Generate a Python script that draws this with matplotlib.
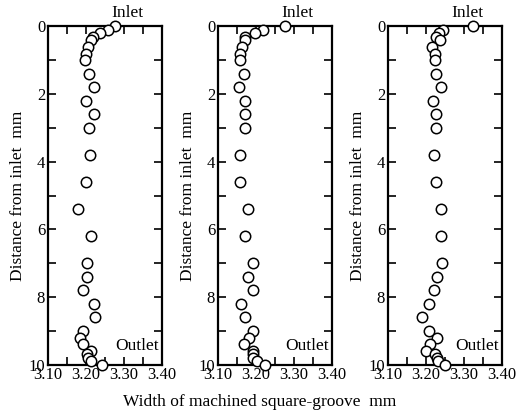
import matplotlib.pyplot as plt
from matplotlib.ticker import MultipleLocator

plt.rcParams['font.family'] = ['Liberation Serif', 'DejaVu Serif']

# distance from inlet (mm), same stations for all three grooves
dist = [0, 0.1, 0.2, 0.3, 0.4, 0.6, 0.8, 1.0, 1.4, 1.8, 2.2, 2.6, 3.0, 3.8, 4.6,
        5.4, 6.2, 7.0, 7.4, 7.8, 8.2, 8.6, 9.0, 9.2, 9.4, 9.6, 9.7, 9.8, 9.9, 10.0]

# groove width (mm)
width_a = [3.277, 3.257, 3.238, 3.219, 3.213, 3.206, 3.199, 3.198, 3.209, 3.221,
           3.200, 3.221, 3.209, 3.211, 3.200, 3.180, 3.212, 3.202, 3.202, 3.193,
           3.222, 3.224, 3.192, 3.183, 3.192, 3.214, 3.203, 3.205, 3.212, 3.242]
width_b = [3.276, 3.219, 3.197, 3.172, 3.170, 3.163, 3.157, 3.157, 3.168, 3.156,
           3.171, 3.171, 3.171, 3.158, 3.158, 3.180, 3.171, 3.193, 3.180, 3.192,
           3.160, 3.170, 3.192, 3.182, 3.169, 3.192, 3.192, 3.193, 3.202, 3.223]
width_c = [3.323, 3.245, 3.235, 3.226, 3.236, 3.215, 3.224, 3.224, 3.226, 3.239,
           3.219, 3.227, 3.227, 3.221, 3.227, 3.239, 3.239, 3.241, 3.230, 3.221,
           3.209, 3.189, 3.209, 3.230, 3.210, 3.200, 3.223, 3.230, 3.232, 3.251]

fig = plt.figure(figsize=(5.24, 4.2), dpi=100)
lefts = [48 / 524, 218 / 524, 388 / 524]

for left, w in zip(lefts, [width_a, width_b, width_c]):
    ax = fig.add_axes([left, 0.132, 114 / 524, 0.805])
    ax.plot(w, dist, 'o', mfc='white', mec='black', mew=1.1, ms=7.5, clip_on=False, zorder=3)
    ax.set_xlim(3.10, 3.40)
    ax.set_ylim(10, 0)
    ax.xaxis.set_major_locator(MultipleLocator(0.1))
    ax.xaxis.set_minor_locator(MultipleLocator(0.05))
    ax.yaxis.set_major_locator(MultipleLocator(2))
    ax.yaxis.set_minor_locator(MultipleLocator(1))
    ax.set_xticks([3.10, 3.20, 3.30, 3.40])
    ax.set_xticklabels(['3.10', '3.20', '3.30', '3.40'])
    ax.tick_params(which='both', direction='in', top=True, right=True,
                   length=6, width=1.2, labelsize=12, pad=2)
    for s in ax.spines.values():
        s.set_linewidth(1.6)
    ax.set_ylabel('Distance from inlet  mm', fontsize=12.5, labelpad=2)
    ax.text(3.31, -0.4, 'Inlet', ha='center', va='center', fontsize=12.5)
    ax.text(3.335, 9.45, 'Outlet', ha='center', va='center', fontsize=12.5)

fig.text(0.495, 0.043, 'Width of machined square-groove  mm', ha='center', va='center', fontsize=12.5)
fig.savefig('out.png', dpi=100)
